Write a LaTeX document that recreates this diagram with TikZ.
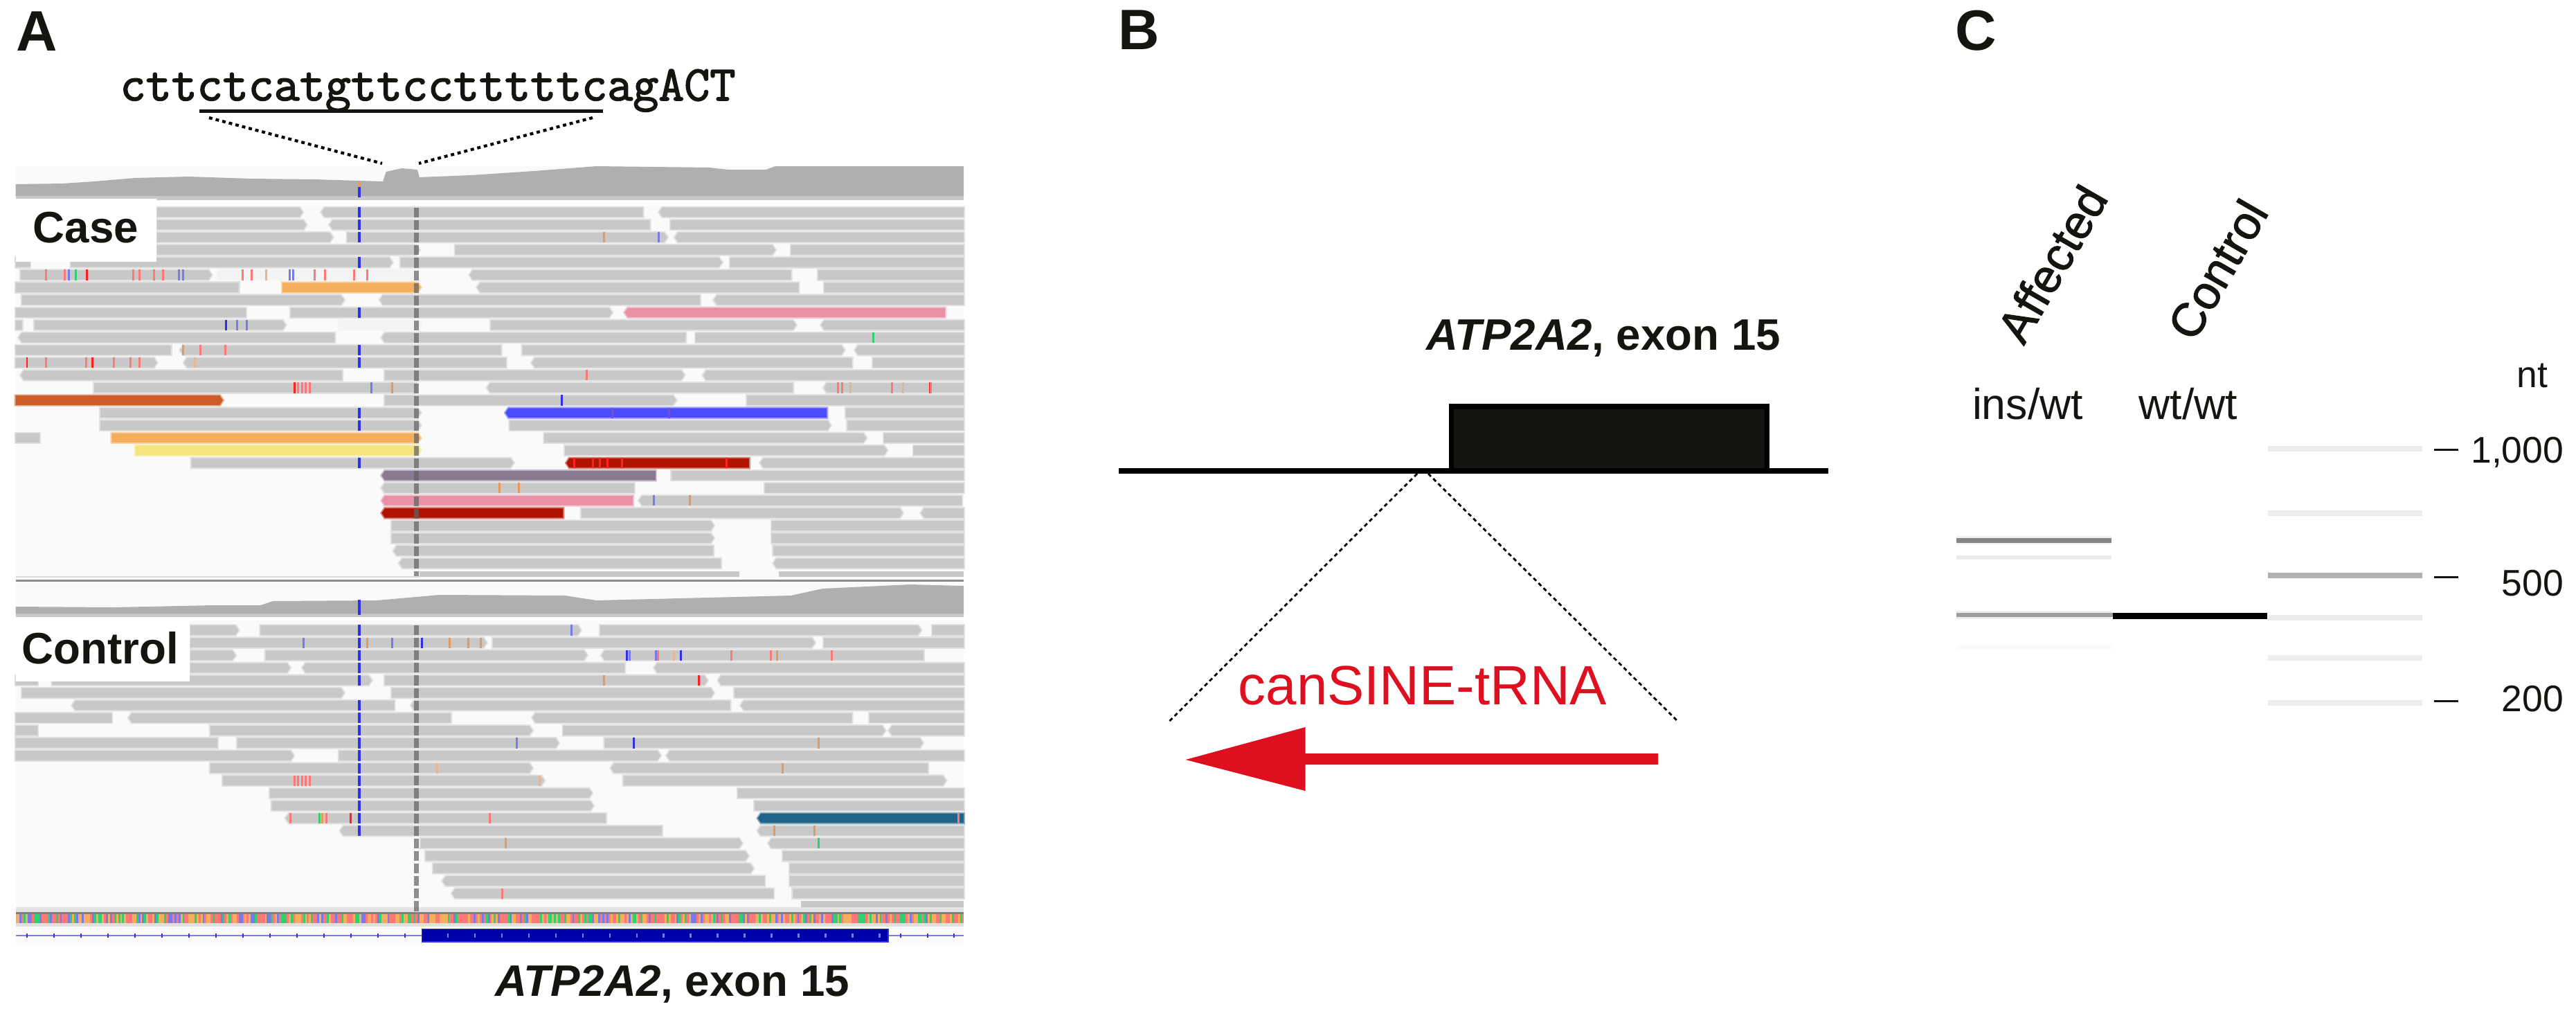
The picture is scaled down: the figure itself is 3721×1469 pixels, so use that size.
\documentclass[tikz,border=0pt]{standalone}
\usepackage{fontspec}
\setmainfont{Liberation Sans}
\newfontfamily\seqf[FakeBold=2.2]{Latin Modern Mono}
\newfontfamily\rotf[FakeBold=1.6]{Liberation Sans}
\definecolor{bgc}{HTML}{FAFAFA}
\definecolor{rdg}{HTML}{C8C8C8}
\definecolor{rdw}{HTML}{F3F3F3}
\definecolor{cov}{HTML}{AFAFAF}
\definecolor{mr}{HTML}{FF7878}
\definecolor{mR}{HTML}{FF2020}
\definecolor{mb}{HTML}{7A7AE8}
\definecolor{mB}{HTML}{3030E8}
\definecolor{mo}{HTML}{E8985A}
\definecolor{mt}{HTML}{E0B898}
\definecolor{mg}{HTML}{30D070}
\definecolor{mp}{HTML}{8050B0}
\definecolor{cOr}{HTML}{F5AE5C}
\definecolor{cOb}{HTML}{CC5C28}
\definecolor{cPk}{HTML}{E890A6}
\definecolor{cBl}{HTML}{4C4CFF}
\definecolor{cYe}{HTML}{F4E57C}
\definecolor{cDr}{HTML}{B01400}
\definecolor{cPu}{HTML}{8A7A90}
\definecolor{cTe}{HTML}{20648A}
\definecolor{exA}{HTML}{0000AA}
\definecolor{txtk}{HTML}{141410}
\definecolor{redB}{HTML}{DE1020}
\newcommand\rd[5]{% x1 x2 tip row colour
  \pgfmathsetmacro\yy{\yo+18.1*#4}%
  \pgfmathsetmacro\yt{\yy-6.8}\pgfmathsetmacro\yb{\yy+6.8}%
  \def\dl{0}\def\dr{0}%
  \ifcase#3\relax\or\def\dr{5}\or\def\dl{5}\fi
  \path[draw=#5!50!bgc,line width=1.1pt,postaction={fill=#5,draw=none}]
    ({#1+\dl},\yt) -- ({#2-\dr},\yt) -- (#2,\yy) -- ({#2-\dr},\yb) -- ({#1+\dl},\yb) -- (#1,\yy) -- cycle;}
\newcommand\rowg[2]{\foreach \a/\b/\t in {#2}{\rd{\a}{\b}{\t}{#1}{rdg}}}
\newcommand\mks[2]{\pgfmathsetmacro\yy{\yo+18.1*#1}%
  \foreach \a/\c in {#2}{\draw[\c,line width=.85pt] (\a,{\yy-7.6}) -- (\a,{\yy+7.6});}}
\newcommand\posb[1]{\foreach \r in {#1}{\pgfmathsetmacro\yy{\yo+18.1*\r}%
  \draw[mB,line width=1.25pt] (572,{\yy-7.6}) -- (572,{\yy+7.6});}}
\tikzset{
  lab/.style={inner sep=0pt,outer sep=0pt,anchor=base,text=txtk},
  lbold/.style={lab,font=\fontsize{18.1}{20}\selectfont\bfseries},
  lreg/.style={lab,font=\fontsize{17.8}{20}\selectfont},
  lnum/.style={lab,anchor=base east,font=\fontsize{15.2}{18}\selectfont},
  panel/.style={lab,anchor=base west,font=\fontsize{23.4}{26}\selectfont\bfseries},
  rot/.style={lab,anchor=center,rotate=60,font=\rotf\fontsize{19.2}{22}\selectfont},
  dotA/.style={line width=1.2pt,dash pattern=on 1.4pt off 1.4pt,black},
  dotB/.style={line width=.8pt,dash pattern=on 1.6pt off 1.3pt,black},
}
\begin{document}
\begin{tikzpicture}[x=0.01cm,y=-0.01cm]
\useasboundingbox (0,0) rectangle (3721,1469);
\fill[white] (0,0) rectangle (3721,1469);
% ---------- Panel A ----------
\begin{scope}[x=0.009058cm]
\fill[bgc] (25,240) rectangle (1535,837);
\fill[bgc] (25,841) rectangle (1535,1365);
% coverage case
\fill[rdg] (25,283) rectangle (1535,289);
\fill[white] (25,289) rectangle (1535,297);
\fill[cov] (25,283) -- (25,266) -- (100,265) -- (150,262) -- (215,257) -- (300,255) -- (400,258) -- (500,259) -- (610,262) -- (615,248) -- (640,243) -- (665,245) -- (668,256) -- (750,253) -- (850,247) -- (950,240) -- (1130,242) -- (1160,245) -- (1220,245) -- (1235,240) -- (1535,240) -- (1535,283) -- cycle;
\fill[mo] (570,262) rectangle (574.5,270);
\fill[mB] (570,270) rectangle (574.5,285);
% reads case
\def\yo{306.5}
\rowg{0}{250/482/1,512/1024/2,1050/1535/2}
\rowg{1}{250/488/1,525/1035/2,1068/1535/0}
\rowg{2}{250/530/1,553/1063/1,1075/1535/2}
\rowg{3}{250/668/1,725/1235/1,1260/1535/0}
\rowg{4}{25/48/0,113/625/1,638/1150/1,1163/1535/0}
\rowg{5}{33/337/1,748/1260/2,1303/1535/0}
\rd{345}{665}{2}{5}{rdw}
\rowg{6}{25/380/0,760/1272/2,1313/1535/0}
\rd{450}{670}{1}{6}{cOr}
\rowg{7}{35/548/1,605/1115/2,1137/1535/2}
\rowg{8}{25/392/0,463/975/1}
\rd{995}{1505}{2}{8}{cPk}
\rowg{9}{25/35/0,55/455/1,782/1268/1,1308/1535/2}
\rd{540}{672}{1}{9}{rdw}
\rowg{10}{30/533/2,608/1092/2,1108/1535/0}
\rowg{11}{25/272/0,287/798/2,832/1345/1,1362/1535/2}
\rowg{12}{25/250/1,293/806/2,847/1357/2,1390/1535/0}
\rowg{13}{33/545/2,613/1090/1,1120/1535/2}
\rowg{14}{150/664/0,776/1263/2,1312/1535/2}
\rd{25}{355}{1}{15}{cOb}
\rowg{15}{613/1077/1,1190/1535/0}
\rowg{16}{160/670/1,1347/1535/0}
\rd{805}{1317}{2}{16}{cBl}
\rowg{17}{160/670/1,812/1323/1,1350/1535/0}
\rowg{18}{25/63/0,867/1380/1,1408/1535/0}
\rd{178}{670}{1}{18}{cOr}
\rowg{19}{900/1413/1,1455/1535/0}
\rd{216}{670}{1}{19}{cYe}
\rowg{20}{305/818/1,1211/1535/2}
\rd{902}{1193}{2}{20}{cDr}
\rd{608}{1044}{2}{21}{cPu}
\rowg{21}{1070/1535/0}
\rowg{22}{608/1010/2,1218/1535/0}
\rd{608}{1008}{2}{23}{cPk}
\rowg{23}{1018/1532/2}
\rd{608}{897}{2}{24}{cDr}
\rowg{24}{926/1438/1,1467/1535/2}
\rowg{25}{624/1137/1,1229/1535/0}
\rowg{26}{624/1137/1,1229/1535/0}
\rowg{27}{627/1136/2,1232/1535/0}
\rowg{28}{636/1148/2,1232/1535/2}
\fill[rdg] (668,825) rectangle (1178,833);
\fill[rdg] (1240,825) rectangle (1535,833);
\fill[rdg!60!bgc] (25,832) rectangle (668,834);
\fill[black!45] (25,836.6) rectangle (1535,840);
% marks case
\posb{0,1,2,4,8,11,12,16,17,20}
\mks{2}{962/mo,1049/mb}
\mks{5}{73/mr,103/mr,110/mb,121/mg,138/mR,212/mr,222/mr,245/mr,260/mr,285/mb,292/mb,387/mr,401/mr,424/mt,461/mb,467/mb,501/mr,518/mr,564/mr,585/mr}
\mks{9}{360/mB,378/mb,393/mb}
\mks{10}{1391/mg}
\mks{11}{292/mo,319/mr,359/mr}
\mks{12}{43/mR,73/mr,137/mr,147/mR,181/mr,208/mr,222/mr,310/mt}
\mks{13}{935/mr}
\mks{14}{469/mR,475/mr,481/mr,487/mr,493/mr,592/mb,625/mo,1335/mr,1341/mr,1355/mt,1421/mr,1439/mt,1481/mR,1483/mr}
\mks{15}{895/mB}
\mks{16}{975/mp,1066/mp}
\mks{20}{915/mR,945/mR,955/mR,968/mR,991/mR,1157/mR}
\mks{22}{796/mo,827/mo}
\mks{23}{1041/mb,1099/mo}
% dashed position line, case
\draw[line width=2pt,black!62,opacity=.7,dash pattern=on 4pt off 1.15pt] (663,300) -- (663,832);
% coverage control
\fill[rdg] (25,886) rectangle (1535,891);
\fill[white] (25,891) rectangle (1535,896);
\fill[cov] (25,886) -- (25,876) -- (180,877) -- (340,874) -- (415,874) -- (435,868) -- (600,867) -- (700,859) -- (900,860) -- (950,867) -- (1260,860) -- (1310,850) -- (1450,844) -- (1535,846) -- (1535,886) -- cycle;
\fill[mB] (570,866) rectangle (574.5,888);
% reads control
\def\yo{910}
\rowg{0}{303/380/1,415/925/1,956/1467/1,1485/1535/0}
\rowg{1}{303/775/1,785/1298/1,1312/1535/0}
\rowg{2}{303/375/1,423/935/1,958/1471/2}
\rowg{3}{303/462/1,482/995/2,1042/1535/2}
\rowg{4}{25/60/0,83/592/1,613/1127/1,1144/1535/2}
\rowg{5}{35/548/1,624/1137/1,1170/1535/0}
\rowg{6}{115/628/2,655/1163/2,1180/1535/2}
\rowg{7}{25/178/0,205/718/2,848/1357/2,1385/1535/0}
\rowg{8}{25/60/0,335/848/1,897/1410/1,1416/1535/2}
\rowg{9}{25/346/0,378/890/1,963/1470/1}
\rowg{10}{25/468/1,540/1052/1,1062/1535/2}
\rowg{11}{335/848/1,973/1478/2}
\rowg{12}{355/867/1,993/1507/1}
\rowg{13}{430/943/1,1175/1535/0}
\rowg{14}{433/945/1,1202/1535/0}
\rowg{15}{455/965/2}
\rd{1207}{1535}{2}{15}{cTe}
\rowg{16}{542/1054/2,1207/1535/2}
\rowg{17}{670/1182/1,1224/1535/2}
\rowg{18}{678/1192/1,1247/1535/0}
\rowg{19}{690/1200/1,1258/1535/0}
\rowg{20}{705/1218/2,1258/1535/0}
\rowg{21}{720/1232/2,1263/1535/0}
\fill[rdg] (1276,1301) rectangle (1535,1311);
\fill[black!11] (25,1310) rectangle (1535,1317);
\posb{0,1,2,3,4,6,7,8,9,10,11,12,13,14,15,16}
\mks{0}{910/mb}
\mks{1}{483/mb,585/mo,625/mb,672/mB,716/mo,746/mo,766/mo}
\mks{2}{998/mB,1003/mb,1045/mb,1048/mr,1073/mt,1085/mB,1165/mr,1228/mr,1238/mo,1325/mr}
\mks{4}{962/mo,1113/mR}
\mks{9}{823/mb,1009/mB,1304/mo}
\mks{11}{696/mt,1247/mo}
\mks{12}{469/mr,475/mr,481/mr,487/mr,493/mr,860/mt}
\mks{15}{463/mr,509/mg,513/mo,520/mr,558/mR,780/mr,1527/mr}
\mks{16}{1233/mo,1297/mo}
\mks{17}{806/mo,1304/mg}
\mks{21}{800/mr}
\draw[line width=2pt,black!62,opacity=.7,dash pattern=on 4pt off 1.15pt] (663,903) -- (663,1317);
% sequence track
\fill[black!50] (25,1317) rectangle (1535,1320);
\fill[black!12] (25,1333) rectangle (1535,1338);
\pgfmathsetseed{4711}
\foreach \i in {0,...,471}{
  \pgfmathrandominteger{\rn}{0}{5}
  \ifcase\rn \def\cc{mr}\or \def\cc{mr}\or \def\cc{cOr}\or \def\cc{cOr}\or \def\cc{mb}\or \def\cc{mg}\fi
  \fill[\cc] ({25+3.2*\i},1320) rectangle ({25+3.2*(\i+1)},1333);
}
% gene track
\draw[mb,line width=.7pt] (25,1351) -- (672,1351) (1415,1351) -- (1535,1351);
\foreach \i in {0,...,14}{\draw[mB,line width=.6pt] ({43+43*\i},1348) -- ({43+43*\i},1354);}
\foreach \v in {1435,1478,1520}{\draw[mB,line width=.6pt] (\v,1348) -- (\v,1354);}
\filldraw[fill=exA,draw=mB,line width=.5pt] (672,1341.5) rectangle (1415,1360);
\foreach \i in {0,...,16}{\draw[mb,line width=.6pt] ({713+43*\i},1348) -- ({713+43*\i},1354);}
\end{scope}
% labels boxes
\fill[white] (23,287) rectangle (226,378);
\fill[white] (23,894) rectangle (274,984);
\node[lbold] (caseL) at (124,350) {Case};
\node[lbold] (ctrlL) at (145,958) {Control};
\node[panel] (pA) at (23,73) {A};
\node[panel] (pB) at (1615,71) {B};
\node[panel] (pC) at (2824,72) {C};
\node[lab,font=\seqf\fontsize{20.45}{22}\selectfont] (seq) at (618,145) {cttctcatgttcctttttcagACT};
\fill[txtk] (288,157.5) rectangle (871,163);
\coordinate (dAl1) at (302,170); \coordinate (dAl2) at (552,236);
\coordinate (dAr1) at (856,170); \coordinate (dAr2) at (605,236);
\draw[dotA] (dAl1) -- (dAl2);
\draw[dotA] (dAr1) -- (dAr2);
\node[lbold] (exA) at (971,1438) {\textit{ATP2A2}, exon 15};
% ---------- Panel B ----------
\node[lbold] (exB) at (2316,505) {\textit{ATP2A2}, exon 15};
\filldraw[fill=txtk!95!black,draw=black,line width=2pt] (2096,587) rectangle (2552,680);
\fill[black] (1616,675.5) rectangle (2641,683.5);
\coordinate (dBl1) at (2047,684); \coordinate (dBl2) at (1686.5,1044);
\coordinate (dBr1) at (2063,684); \coordinate (dBr2) at (2425,1043);
\draw[dotB] (dBl1) -- (dBl2);
\draw[dotB] (dBr1) -- (dBr2);
\node[lab,text=redB,font=\fontsize{22.7}{26}\selectfont] (sine) at (2055,1017) {canSINE-tRNA};
\coordinate (arT) at (1712.6,1097);
\fill[redB] (2395,1088) -- (1885.5,1088) -- (1885.5,1050) -- (arT) -- (1885.5,1142) -- (1885.5,1104) -- (2395,1104) -- cycle;
% ---------- Panel C ----------
\node[rot] (aff) at (2964,381) {Affected};
\node[rot] (con) at (3203,389) {Control};
\node[lreg] (ins) at (2929,605) {ins/wt};
\node[lreg] (wt) at (3161,605) {wt/wt};
% bands
\fill[black!6] (2826,774) rectangle (3050,786);
\fill[black!48] (2826,776.5) rectangle (3050,783.5);
\fill[black!8] (2826,802) rectangle (3050,808);
\fill[black!7] (2826,882) rectangle (3050,894);
\fill[black!38] (2826,885) rectangle (3052,891);
\fill[black!2] (2826,932) rectangle (3050,938);
\fill[black] (3052,884.5) rectangle (3275,893.5);
\fill[black!8] (3276,644) rectangle (3499,652);
\fill[black!7] (3276,737) rectangle (3499,745);
\fill[black!30] (3276,827) rectangle (3499,835);
\fill[black!8] (3276,888) rectangle (3499,896);
\fill[black!7] (3276,946) rectangle (3499,954);
\fill[black!7] (3276,1011) rectangle (3499,1019);
\coordinate (t1a) at (3516,649.5); \coordinate (t1b) at (3551,649.5);
\coordinate (t2a) at (3516,833); \coordinate (t2b) at (3551,833);
\coordinate (t3a) at (3516,1012); \coordinate (t3b) at (3551,1012);
\draw[txtk,line width=.85pt] (t1a) -- (t1b) (t2a) -- (t2b) (t3a) -- (t3b);
\node[lab,font=\fontsize{15.2}{18}\selectfont] (nt) at (3658,559) {nt};
\node[lnum] (n1) at (3703,668) {1,000};
\node[lnum] (n2) at (3703,860) {500};
\node[lnum] (n3) at (3703,1027) {200};
\end{tikzpicture}
\end{document}
